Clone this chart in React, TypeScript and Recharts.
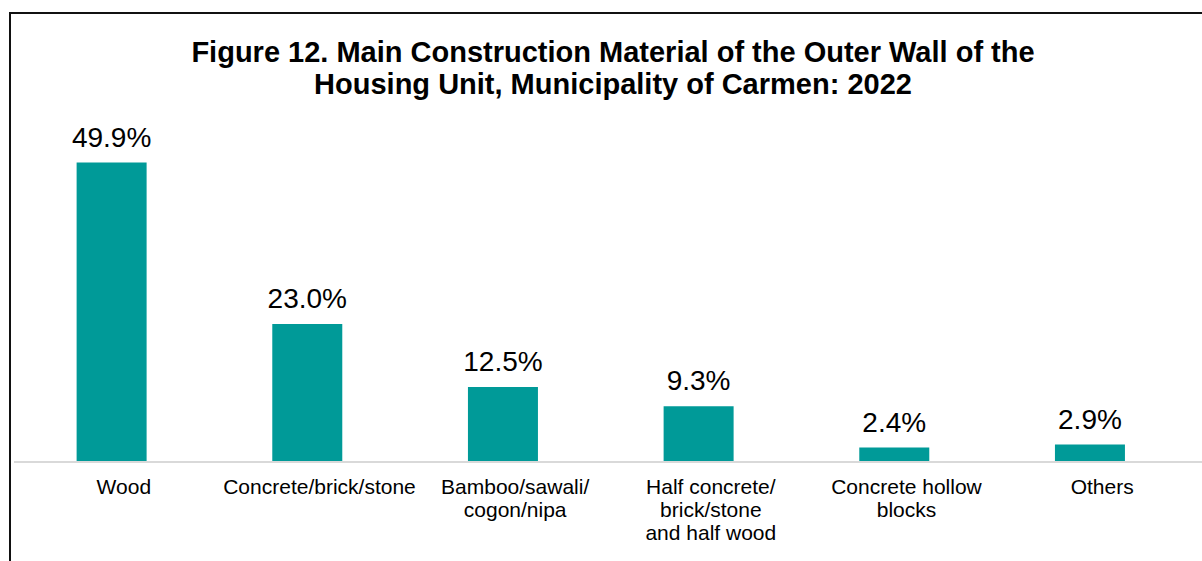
import React from "react";
import { BarChart, Bar, XAxis, YAxis, LabelList } from "recharts";

const categories = [
  "Wood",
  "Concrete/brick/stone",
  "Bamboo/sawali/cogon/nipa",
  "Half concrete/brick/stone and half wood",
  "Concrete hollow blocks",
  "Others",
];
const tickLines = [
  ["Wood"],
  ["Concrete/brick/stone"],
  ["Bamboo/sawali/", "cogon/nipa"],
  ["Half concrete/", "brick/stone", "and half wood"],
  ["Concrete hollow", "blocks"],
  ["Others"],
];
const shares = [49.9, 23.0, 12.5, 9.3, 2.4, 2.9];
const titleLines = [
  "Figure 12. Main Construction Material of the Outer Wall of the",
  "Housing Unit, Municipality of Carmen: 2022",
];

const data = categories.map((c, i) => ({ category: c, share: shares[i] }));

const FONT = "'Liberation Sans', Arial, sans-serif";

const Tick = (props: any) => {
  const { x, y, index } = props;
  const lines = tickLines[index] || [];
  return (
    <text x={x + 12} y={y + 32} textAnchor="middle" fill="#000" fontSize={21} fontFamily={FONT}>
      {lines.map((l, i) => (
        <tspan key={i} x={x + 12} dy={i === 0 ? 0 : 23}>
          {l}
        </tspan>
      ))}
    </text>
  );
};

export default function App() {
  return (
    <div style={{ position: "relative", width: 1202, height: 561, overflow: "hidden", background: "#fff" }}>
      <style>{`body{margin:0;overflow:hidden;}`}</style>
      <div
        style={{
          position: "absolute",
          left: 9,
          top: 12,
          width: 1400,
          height: 800,
          border: "2px solid #111",
          boxSizing: "border-box",
        }}
      />
      <div
        style={{
          position: "absolute",
          left: 0,
          top: 36,
          width: 1226,
          textAlign: "center",
          fontFamily: FONT,
          fontWeight: "bold",
          fontSize: 29,
          lineHeight: "32px",
          color: "#000",
        }}
      >
        {titleLines.map((t, i) => (
          <div key={i}>{t}</div>
        ))}
      </div>
      <div style={{ position: "absolute", left: 0, top: 0 }}>
        <BarChart
          width={1202}
          height={561}
          data={data}
          margin={{ top: 102, right: 0, bottom: 0, left: 14 }}
          barCategoryGap="32%"
        >
          <XAxis
            dataKey="category"
            height={99}
            interval={0}
            tickLine={false}
            tickSize={0}
            tickMargin={0}
            axisLine={{ stroke: "#d9d9d9", strokeWidth: 2 }}
            padding={{ left: 0, right: 14 }}
            tick={<Tick />}
          />
          <YAxis hide domain={[0, 60]} />
          <Bar dataKey="share" fill="#009A98" isAnimationActive={false}>
            <LabelList
              dataKey="share"
              position="top"
              offset={16}
              formatter={(v: any) => `${Number(v).toFixed(1)}%`}
              fill="#000"
              fontSize={28}
              fontFamily={FONT}
            />
          </Bar>
        </BarChart>
      </div>
    </div>
  );
}
